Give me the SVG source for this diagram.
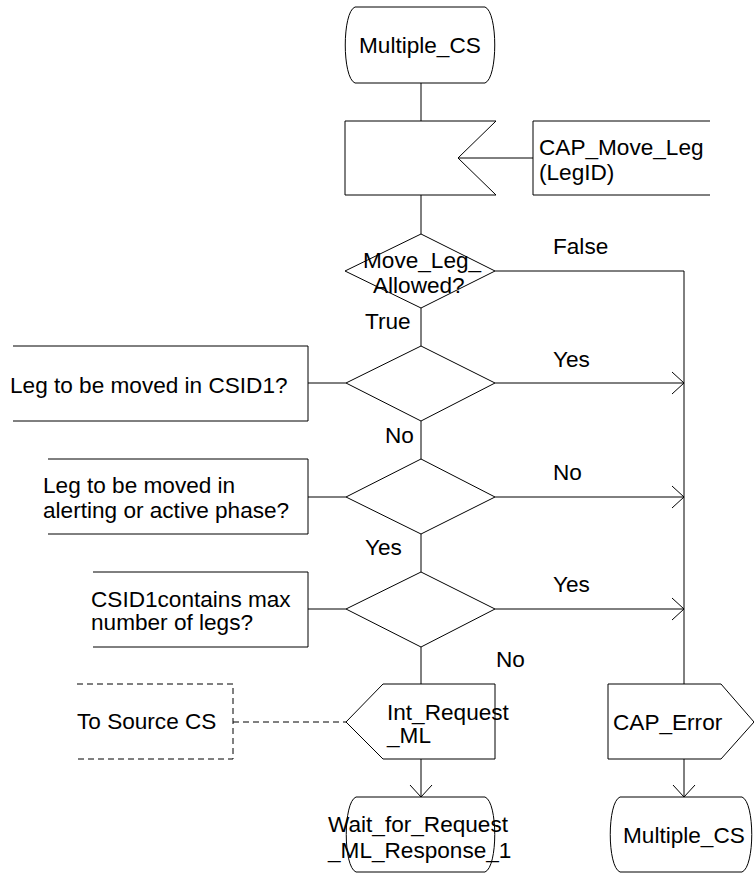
<svg xmlns="http://www.w3.org/2000/svg" width="754" height="874" viewBox="0 0 754 874">
<style>
.s{fill:none;stroke:#000;stroke-width:1}
.f{fill:#fff;stroke:#000;stroke-width:1}
.d{fill:none;stroke:#000;stroke-width:1;stroke-dasharray:6,4}
text{font-family:"Liberation Sans",Arial,sans-serif;font-size:22.6px;fill:#000}
</style>
<defs>
<marker id="arr" viewBox="0 0 12 24" refX="12" refY="12" markerWidth="12" markerHeight="24" markerUnits="userSpaceOnUse" orient="auto">
<path d="M0,1 L12,12 L0,23" fill="none" stroke="#000" stroke-width="1"/>
</marker>
</defs>
<g id="connectors">
<line class="s" x1="421" y1="83" x2="421" y2="121"/>
<line class="s" x1="421" y1="195" x2="421" y2="234"/>
<line class="s" x1="421" y1="308" x2="421" y2="346"/>
<line class="s" x1="421" y1="421" x2="421" y2="459"/>
<line class="s" x1="421" y1="534" x2="421" y2="572"/>
<line class="s" x1="421" y1="647" x2="421" y2="684"/>
<line class="s" x1="421" y1="759" x2="421" y2="797" marker-end="url(#arr)"/>
<line class="s" x1="458" y1="158" x2="533" y2="158"/>
<polyline class="s" points="495,271 684,271 684,684"/>
<line class="s" x1="495" y1="383" x2="684" y2="383" marker-end="url(#arr)"/>
<line class="s" x1="495" y1="497" x2="684" y2="497" marker-end="url(#arr)"/>
<line class="s" x1="495" y1="609" x2="684" y2="609" marker-end="url(#arr)"/>
<line class="s" x1="308" y1="383" x2="346" y2="383"/>
<line class="s" x1="308" y1="497" x2="346" y2="497"/>
<line class="s" x1="308" y1="609" x2="346" y2="609"/>
<line class="d" x1="233" y1="722" x2="346" y2="722"/>
<line class="s" x1="684" y1="759" x2="684" y2="797" marker-end="url(#arr)"/>
<text x="553" y="254">False</text>
<text x="365" y="329">True</text>
<text x="553" y="367">Yes</text>
<text x="385" y="443">No</text>
<text x="553" y="480">No</text>
<text x="365" y="555">Yes</text>
<text x="553" y="592">Yes</text>
<text x="496" y="667">No</text>
</g>
<g id="start">
<path class="f" d="M355,7 H485 C498,12 498,78 485,83 H355 C342,78 342,12 355,7 Z"/>
<text x="359" y="53">Multiple_CS</text>
</g>
<g id="input">
<polygon class="f" points="345,121 496,121 458,158 496,195 345,195"/>
</g>
<g id="inputComment">
<polyline class="s" points="710,121 533,121 533,195 710,195"/>
<text x="539" y="155">CAP_Move_Leg</text>
<text x="539" y="180">(LegID)</text>
</g>
<g id="decision1">
<polygon class="f" points="421,234 495,271 421,308 345,271"/>
<text x="363" y="268">Move_Leg_</text>
<text x="373" y="293">Allowed?</text>
</g>
<g id="decision2">
<polygon class="f" points="421,346 495,383 421,421 346,383"/>
</g>
<g id="comment2">
<polyline class="s" points="13,346 308,346 308,421 13,421"/>
<text x="10" y="393">Leg to be moved in CSID1?</text>
</g>
<g id="decision3">
<polygon class="f" points="421,459 495,497 421,534 346,497"/>
</g>
<g id="comment3">
<polyline class="s" points="48,459 308,459 308,534 48,534"/>
<text x="43" y="493">Leg to be moved in</text>
<text x="43" y="518">alerting or active phase?</text>
</g>
<g id="decision4">
<polygon class="f" points="421,572 495,609 421,647 346,609"/>
</g>
<g id="comment4">
<polyline class="s" points="93,572 308,572 308,647 93,647"/>
<text x="91" y="607">CSID1contains max</text>
<text x="91" y="630">number of legs?</text>
</g>
<g id="output1">
<polygon class="f" points="383,684 495,684 495,759 383,759 346,722"/>
<text x="387" y="720">Int_Request</text>
<text x="387" y="743">_ML</text>
</g>
<g id="comment5">
<polyline class="d" points="77,684 233,684 233,759 77,759"/>
<text x="77" y="729">To Source CS</text>
</g>
<g id="output2">
<polygon class="f" points="608,684 721,684 754,722 721,759 608,759"/>
<text x="613" y="730">CAP_Error</text>
</g>
<g id="waitState">
<path class="f" d="M356,797 H485 C498,802 498,867 485,872 H356 C343,867 343,802 356,797 Z"/>
<text x="328" y="832">Wait_for_Request</text>
<text x="328" y="858">_ML_Response_1</text>
</g>
<g id="endState">
<path class="f" d="M620,797 H742 C755,802 755,867 742,872 H620 C607,867 607,802 620,797 Z"/>
<text x="623" y="843">Multiple_CS</text>
</g>
</svg>
